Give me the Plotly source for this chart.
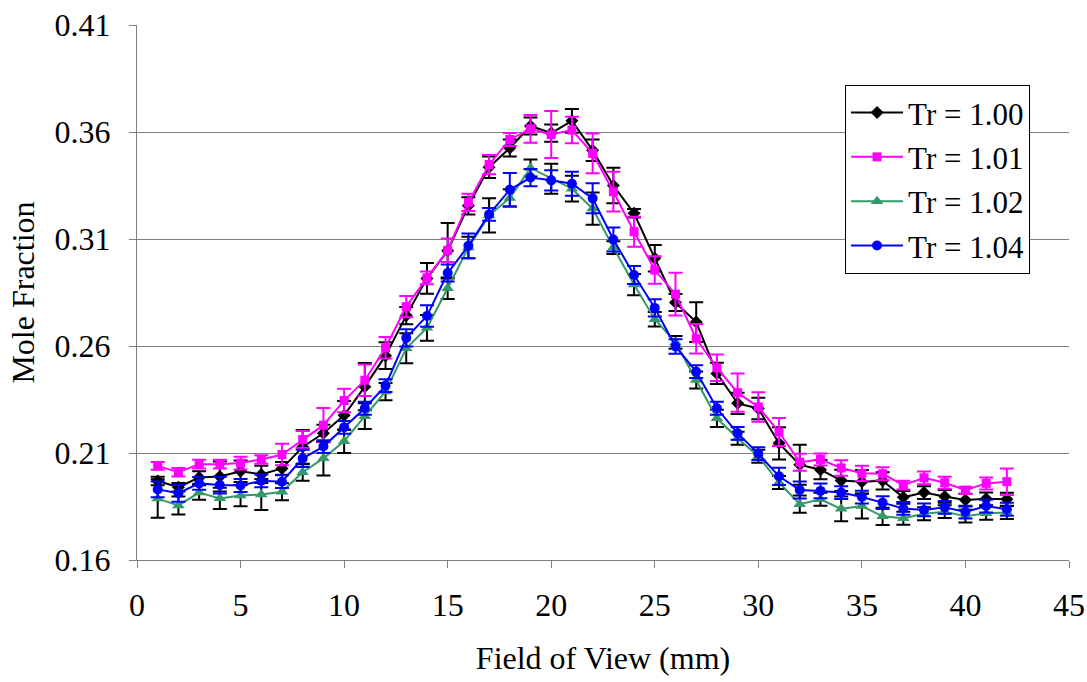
import plotly.graph_objects as go

x = list(range(1, 43))

tr100 = [0.1969, 0.1940, 0.1985, 0.1990, 0.2015, 0.2000, 0.2028, 0.2128, 0.2192, 0.2276,
         0.2410, 0.2555, 0.2742, 0.2916, 0.3045, 0.3255, 0.3435, 0.3525, 0.3628, 0.3595,
         0.3652, 0.3515, 0.3350, 0.3220, 0.3010, 0.2803, 0.2712, 0.2472, 0.2332, 0.2308,
         0.2145, 0.2045, 0.2022, 0.1972, 0.1966, 0.1970, 0.1893, 0.1915, 0.1897, 0.1880,
         0.1886, 0.1884]
tr101 = [0.2040, 0.2010, 0.2048, 0.2048, 0.2053, 0.2070, 0.2093, 0.2163, 0.2230, 0.2345,
         0.2440, 0.2592, 0.2784, 0.2918, 0.3047, 0.3271, 0.3448, 0.3565, 0.3615, 0.3588,
         0.3609, 0.3500, 0.3321, 0.3134, 0.2955, 0.2842, 0.2634, 0.2498, 0.2382, 0.2315,
         0.2198, 0.2057, 0.2070, 0.2030, 0.2005, 0.2003, 0.1950, 0.1984, 0.1961, 0.1926,
         0.1958, 0.1966]
tr102 = [0.1887, 0.1855, 0.1915, 0.1888, 0.1901, 0.1906, 0.1919, 0.2010, 0.2075, 0.2155,
         0.2272, 0.2387, 0.2589, 0.2685, 0.2870, 0.3060, 0.3210, 0.3292, 0.3432, 0.3382,
         0.3335, 0.3242, 0.3060, 0.2887, 0.2725, 0.2617, 0.2441, 0.2262, 0.2169, 0.2085,
         0.1962, 0.1861, 0.1884, 0.1839, 0.1852, 0.1804, 0.1795, 0.1816, 0.1826, 0.1805,
         0.1818, 0.1822]
tr104 = [0.1930, 0.1912, 0.1958, 0.1950, 0.1948, 0.1970, 0.1966, 0.2075, 0.2130, 0.2220,
         0.2309, 0.2415, 0.2638, 0.2740, 0.2941, 0.3068, 0.3215, 0.3330, 0.3387, 0.3374,
         0.3358, 0.3290, 0.3098, 0.2932, 0.2778, 0.2598, 0.2480, 0.2309, 0.2192, 0.2097,
         0.1991, 0.1927, 0.1923, 0.1915, 0.1894, 0.1868, 0.1841, 0.1834, 0.1846, 0.1824,
         0.1852, 0.1837]

err100 = [0.002, 0.002, 0.003, 0.007, 0.005, 0.004, 0.003, 0.008, 0.004, 0.0067,
          0.011, 0.0062, 0.004, 0.0072, 0.013, 0.004, 0.005, 0.004, 0.004, 0.004,
          0.0055, 0.005, 0.0083, 0.002, 0.0062, 0.004, 0.0093, 0.005, 0.005, 0.005,
          0.0075, 0.0093, 0.0045, 0.005, 0.0055, 0.004, 0.003, 0.003, 0.003, 0.003,
          0.003, 0.003]
err101 = [0.0018, 0.002, 0.002, 0.002, 0.003, 0.002, 0.005, 0.004, 0.008, 0.0055,
          0.0074, 0.005, 0.005, 0.003, 0.0055, 0.004, 0.0045, 0.003, 0.0065, 0.011,
          0.0062, 0.0093, 0.0093, 0.007, 0.0064, 0.010, 0.0069, 0.0062, 0.0089, 0.0069,
          0.0065, 0.004, 0.0028, 0.0036, 0.0036, 0.003, 0.002, 0.003, 0.0028, 0.0016,
          0.0028, 0.0062]
err102 = [0.009, 0.0042, 0.0034, 0.005, 0.005, 0.0072, 0.004, 0.004, 0.008, 0.0055,
          0.006, 0.004, 0.007, 0.006, 0.005, 0.005, 0.008, 0.004, 0.004, 0.007,
          0.006, 0.0075, 0.003, 0.005, 0.0034, 0.003, 0.004, 0.004, 0.003, 0.003,
          0.003, 0.004, 0.003, 0.0058, 0.0058, 0.004, 0.003, 0.003, 0.003, 0.003,
          0.003, 0.003]
err104 = [0.0037, 0.004, 0.003, 0.0039, 0.003, 0.003, 0.003, 0.004, 0.003, 0.003,
          0.003, 0.003, 0.004, 0.005, 0.004, 0.0058, 0.003, 0.0078, 0.004, 0.0047,
          0.0056, 0.007, 0.0056, 0.0042, 0.004, 0.0034, 0.003, 0.003, 0.003, 0.003,
          0.004, 0.004, 0.0034, 0.003, 0.003, 0.003, 0.003, 0.003, 0.003, 0.003,
          0.003, 0.003]

y_ticks = [0.16, 0.21, 0.26, 0.31, 0.36, 0.41]
y_ticklabels = ["0.16", "0.21", "0.26", "0.31", "0.36", "0.41"]
x_ticks = [0, 5, 10, 15, 20, 25, 30, 35, 40, 45]

names = ["Tr = 1.00", "Tr = 1.01", "Tr = 1.02", "Tr = 1.04"]
series = [tr100, tr101, tr102, tr104]
errors = [err100, err101, err102, err104]
colors = ["#000000", "#FF00FF", "#339966", "#0000FF"]
err_colors = ["#000000", "#FF00FF", "#000000", "#0000FF"]
symbols = ["diamond", "square", "triangle-up", "circle"]
sizes = [10, 9, 11, 10]

fig = go.Figure()
for i in range(4):
    fig.add_trace(go.Scatter(
        x=x, y=series[i], name=names[i], mode="lines+markers",
        legendgroup=names[i],
        line=dict(color=colors[i], width=2),
        marker=dict(symbol=symbols[i], size=sizes[i], color=colors[i]),
        error_y=dict(type="data", array=errors[i], visible=True,
                     color=err_colors[i], thickness=2, width=7),
    ))

font_family = "Liberation Serif, Times New Roman, serif"
fig.update_layout(
    width=1087, height=682,
    margin=dict(l=137, r=18, t=25, b=122),
    paper_bgcolor="white", plot_bgcolor="white",
    font=dict(family=font_family, size=32, color="black"),
    showlegend=True,
    legend=dict(
        x=0.7597, y=0.888, xanchor="left", yanchor="top",
        bgcolor="white", bordercolor="black", borderwidth=1,
        font=dict(family=font_family, size=31, color="black"),
        tracegroupgap=1, itemwidth=52,
    ),
    xaxis=dict(
        range=[0, 45], tickvals=x_ticks,
        showline=True, linecolor="#808080", linewidth=1,
        ticks="outside", ticklen=7, tickcolor="#808080",
        showgrid=False, zeroline=False, automargin=False,
        ticklabelstandoff=10,
        tickfont=dict(size=32),
        title=dict(text="Field of View (mm)", font=dict(size=32), standoff=24),
    ),
    yaxis=dict(
        range=[0.16, 0.41], tickvals=y_ticks, ticktext=y_ticklabels,
        showline=True, linecolor="#808080", linewidth=1,
        ticks="outside", ticklen=7, tickcolor="#808080",
        showgrid=True, gridcolor="#808080", gridwidth=1,
        zeroline=False, automargin=False,
        ticklabelstandoff=12,
        tickfont=dict(size=32),
        title=dict(text="Mole Fraction", font=dict(size=32), standoff=10),
    ),
)

fig.write_html("out.html",
               config={"displayModeBar": False},
               post_script="document.body.style.margin='0';document.body.style.overflow='hidden';")
